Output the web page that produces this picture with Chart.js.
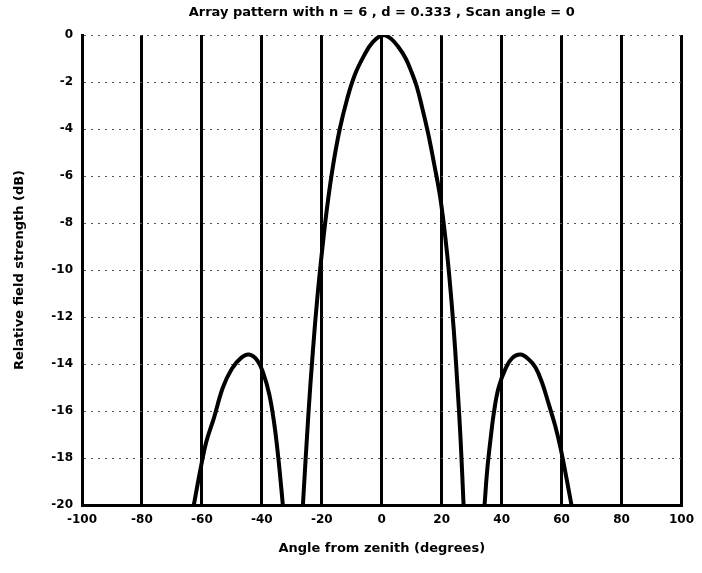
<!DOCTYPE html>
<html>
<head>
<meta charset="utf-8">
<script src="https://cdn.jsdelivr.net/npm/chart.js@4/dist/chart.umd.min.js"></script>
<style>
  html, body { margin: 0; padding: 0; background: #fff; }
  #wrap { width: 702px; height: 573px; }
</style>
</head>
<body>
<div id="wrap"><canvas id="c" width="702" height="573"></canvas></div>
<script>
// Values
const titleText = "Array pattern with n = 6 , d = 0.333 , Scan angle = 0";
const xTitle = "Angle from zenith (degrees)";
const yTitle = "Relative field strength (dB)";

const xTicks = [-100, -80, -60, -40, -20, 0, 20, 40, 60, 80, 100];
const yTicks = [0, -2, -4, -6, -8, -10, -12, -14, -16, -18, -20];

// Left side lobe
const leftLobeAngles = [-62.7, -60.5, -58.5, -56.0, -53.0, -50.0, -47.0, -44.3, -41.5, -39.5, -37.5, -35.8, -34.5, -33.5, -33.0];
const leftLobeDb     = [-20.0, -18.5, -17.3, -16.3, -15.0, -14.2, -13.75, -13.6, -13.85, -14.4, -15.3, -16.6, -18.0, -19.3, -20.0];

// Main lobe
const mainAngles = [-26.3, -24.5, -23.0, -21.5, -20.0, -18.3, -16.3, -14.0, -11.5, -9.0, -6.0, -3.0, 0.5, 3.0, 5.5, 8.0, 10.0, 11.7, 13.5, 15.5, 17.5, 19.5, 21.2, 22.5, 24.0, 25.2, 26.3, 27.3];
const mainDb     = [-20.0, -16.2, -13.5, -11.2, -9.3, -7.4, -5.6, -4.0, -2.7, -1.7, -0.9, -0.3, 0.0, -0.15, -0.5, -1.0, -1.6, -2.2, -3.1, -4.2, -5.5, -6.9, -8.6, -10.2, -12.5, -14.8, -17.2, -20.0];

// Right side lobe
const rightLobeAngles = [34.3, 35.2, 36.3, 37.5, 39.0, 41.3, 43.5, 46.3, 49.0, 51.3, 53.5, 55.7, 57.8, 59.7, 61.7, 63.3];
const rightLobeDb     = [-20.0, -18.5, -17.2, -16.0, -15.0, -14.2, -13.75, -13.6, -13.8, -14.15, -14.8, -15.7, -16.6, -17.6, -18.9, -20.0];

const toPts = (xs, ys) => xs.map((x, i) => ({ x: x, y: ys[i] }));

const lineStyle = {
  showLine: true,
  borderColor: '#000',
  borderWidth: 4,
  pointRadius: 0,
  tension: 0.4,
  fill: false
};

const FONT = "'DejaVu Sans', sans-serif";

new Chart(document.getElementById('c'), {
  type: 'scatter',
  data: {
    datasets: [
      Object.assign({ label: 'left lobe', data: toPts(leftLobeAngles, leftLobeDb) }, lineStyle),
      Object.assign({ label: 'main lobe', data: toPts(mainAngles, mainDb) }, lineStyle),
      Object.assign({ label: 'right lobe', data: toPts(rightLobeAngles, rightLobeDb) }, lineStyle)
    ]
  },
  options: {
    responsive: false,
    animation: false,
    layout: { padding: { top: 0, left: 0, right: 19, bottom: 0 } },
    plugins: {
      legend: { display: false },
      tooltip: { enabled: false },
      title: {
        display: true,
        text: titleText,
        fullSize: false,
        color: '#000',
        font: { family: FONT, size: 13, weight: 'bold' },
        padding: { top: 5, bottom: 14.4 }
      }
    },
    scales: {
      x: {
        type: 'linear',
        min: -100, max: 100,
        afterBuildTicks: (s) => { s.ticks = xTicks.map(v => ({ value: v })); },
        afterFit: (s) => { s.height = 68; },
        ticks: {
          color: '#000',
          font: { family: FONT, size: 12, weight: 'bold' },
          padding: 8,
          maxRotation: 0,
          autoSkip: false
        },
        grid: { color: '#000', lineWidth: 3, drawTicks: false },
        border: { display: true, color: '#000', width: 3 },
        title: {
          display: true, text: xTitle, color: '#000',
          font: { family: FONT, size: 13, weight: 'bold' },
          padding: { top: 0, bottom: 17 }
        }
      },
      y: {
        type: 'linear',
        min: -20, max: 0,
        afterBuildTicks: (s) => { s.ticks = yTicks.map(v => ({ value: v })); },
        afterFit: (s) => { s.width = 82; },
        ticks: {
          color: '#000',
          font: { family: FONT, size: 12, weight: 'bold' },
          padding: 9,
          autoSkip: false
        },
        grid: { color: '#555', lineWidth: 1, drawTicks: false },
        border: { display: true, color: '#000', width: 3, dash: [2, 5] },
        title: {
          display: true, text: yTitle, color: '#000',
          font: { family: FONT, size: 13, weight: 'bold' },
          padding: { top: 12, bottom: 0 }
        }
      }
    }
  }
});
</script>
</body>
</html>
